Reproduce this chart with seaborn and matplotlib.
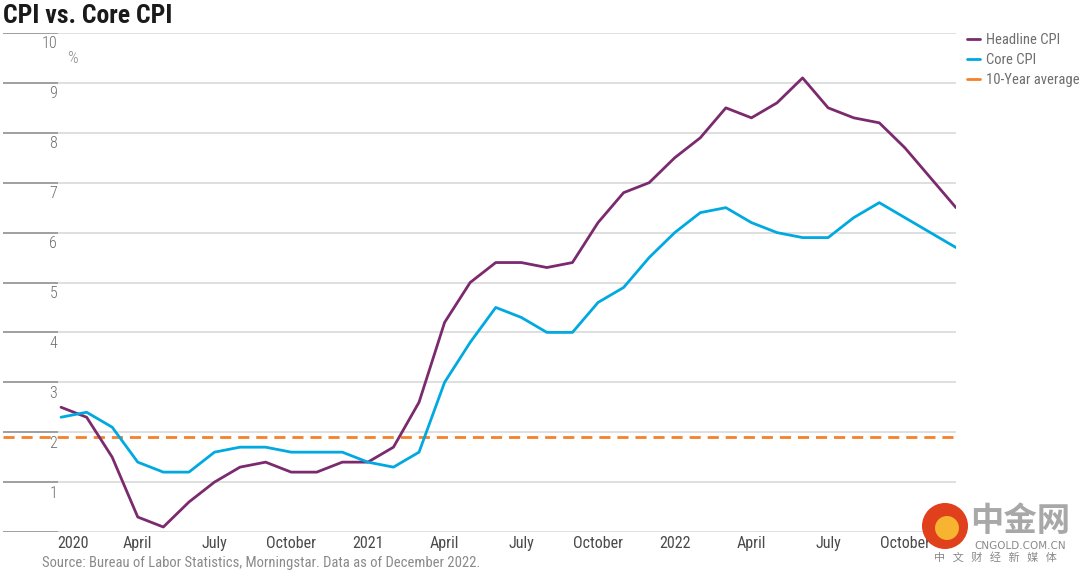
import pandas as pd
import matplotlib.pyplot as plt
import matplotlib.transforms as mtransforms
from matplotlib.patches import Ellipse
from matplotlib.lines import Line2D
from matplotlib import font_manager
import seaborn as sns

# ---- data (year-over-year %, Jan 2020 .. Dec 2022) ----
months = pd.date_range("2020-01-01", "2022-12-01", freq="MS")
headline_cpi = [2.5, 2.3, 1.5, 0.3, 0.1, 0.6, 1.0, 1.3, 1.4, 1.2, 1.2, 1.4,
                1.4, 1.7, 2.6, 4.2, 5.0, 5.4, 5.4, 5.3, 5.4, 6.2, 6.8, 7.0,
                7.5, 7.9, 8.5, 8.3, 8.6, 9.1, 8.5, 8.3, 8.2, 7.7, 7.1, 6.5]
core_cpi = [2.3, 2.4, 2.1, 1.4, 1.2, 1.2, 1.6, 1.7, 1.7, 1.6, 1.6, 1.6,
            1.4, 1.3, 1.6, 3.0, 3.8, 4.5, 4.3, 4.0, 4.0, 4.6, 4.9, 5.5,
            6.0, 6.4, 6.5, 6.2, 6.0, 5.9, 5.9, 6.3, 6.6, 6.3, 6.0, 5.7]
ten_year_avg = 1.9
x_tick_labels = ["2020", "April", "July", "October", "2021", "April",
                 "July", "October", "2022", "April", "July", "October"]
y_tick_values = list(range(1, 11))

idx = list(range(len(months)))
df = pd.DataFrame({
    "m": idx * 2,
    "value": headline_cpi + core_cpi,
    "series": ["Headline CPI"] * len(idx) + ["Core CPI"] * len(idx),
})

# ---- style ----
sns.set_style("white")
names = {f.name for f in font_manager.fontManager.ttflist}
narrow = "DejaVu Sans"
for cand in ["Roboto Condensed", "IBM Plex Sans Condensed", "Liberation Sans Narrow"]:
    if cand in names:
        narrow = cand
        break
plt.rcParams["font.family"] = [narrow, "DejaVu Sans"]

purple = "#7B2A6E"
blue = "#00A9E0"
orange = "#F5812A"
grid_c = "#D9D9D9"
text_c = "#6E6E6E"

fig = plt.figure(figsize=(10.8, 5.75), dpi=100)
W, H = 1080, 575
ax = fig.add_axes([3 / W, (H - 532) / H, 953 / W, 499 / H])

sns.lineplot(data=df, x="m", y="value", hue="series",
             palette={"Headline CPI": purple, "Core CPI": blue},
             linewidth=2.0, ax=ax, legend=False, zorder=3)
ax.axhline(ten_year_avg, color=orange, linestyle=(0, (4, 2.5)), linewidth=2.0, zorder=2)

x0 = -2.27
ax.set_xlim(x0, 35)
ax.set_ylim(0, 10)
for s in ax.spines.values():
    s.set_visible(False)

# gridlines, darker stub at the left
ax.hlines(range(0, 11), x0, 35, color=grid_c, linewidth=1.2, zorder=1)
ax.hlines(range(0, 11), x0, -0.12, color="#A0A0A0", linewidth=1.4, zorder=1)

# y labels inside the plot
for v in y_tick_values:
    ax.text(-0.15, v - 0.07, str(v), ha="right", va="top", fontsize=11.5,
            color=text_c, fontweight="light")
ax.text(0.45, 9.48, "%", ha="center", va="center", fontsize=12, color="#8a8a8a",
        fontweight="light")
ax.set_yticks([])
ax.set_xlabel("")
ax.set_ylabel("")

ax.set_xticks(range(0, 36, 3))
ax.set_xticklabels(x_tick_labels, fontsize=11.5, color="#4a4a4a")
ax.tick_params(axis="x", length=0, pad=3)
first = ax.get_xticklabels()[0]
first.set_transform(first.get_transform() + mtransforms.ScaledTranslation(12 / 100, 0, fig.dpi_scale_trans))

# title, legend, source
fig.text(3 / W, 1 - 16 / H, "CPI vs. Core CPI", fontsize=18.5, fontweight="bold",
         color="#1a1a1a", ha="left", va="center")
handles = [Line2D([], [], color=purple, lw=2), Line2D([], [], color=blue, lw=2),
           Line2D([], [], color=orange, lw=2)]
fig.legend(handles, ["Headline CPI", "Core CPI", "10-Year average"],
           loc="upper left", bbox_to_anchor=(967 / W, 1 - 33 / H), frameon=False,
           handlelength=0.9, handletextpad=0.4, labelspacing=0.42,
           fontsize=10.5, labelcolor=text_c, borderaxespad=0, borderpad=0)
fig.text(42 / W, 1 - 563 / H,
         "Source: Bureau of Labor Statistics, Morningstar. Data as of December 2022.",
         fontsize=10.5, color="#8a8a8a", ha="left", va="center")

# watermark
cjk = ["Noto Sans CJK SC", "DejaVu Sans"]
fig.patches.append(Ellipse((945 / W, 1 - 526 / H), 46 / W, 46 / H, transform=fig.transFigure,
                           facecolor="#E0401C", edgecolor="none", zorder=5))
fig.patches.append(Ellipse((947 / W, 1 - 528 / H), 24 / W, 24 / H, transform=fig.transFigure,
                           facecolor="#F6B430", edgecolor="none", zorder=6))
fig.text(1020 / W, 1 - 521 / H, "中金网", family=cjk, fontsize=24, fontweight="bold",
         color="#a8a8a8", ha="center", va="center")
fig.text(1020 / W, 1 - 546 / H, "CNGOLD.COM.CN", family=["DejaVu Sans"], fontsize=7.5,
         color="#8a8a8a", ha="center", va="center")
fig.text(995 / W, 1 - 557 / H, "中   文   财   经   新   媒   体", family=cjk, fontsize=8,
         color="#8a8a8a", ha="center", va="center")

fig.savefig("out.png", dpi=100)
